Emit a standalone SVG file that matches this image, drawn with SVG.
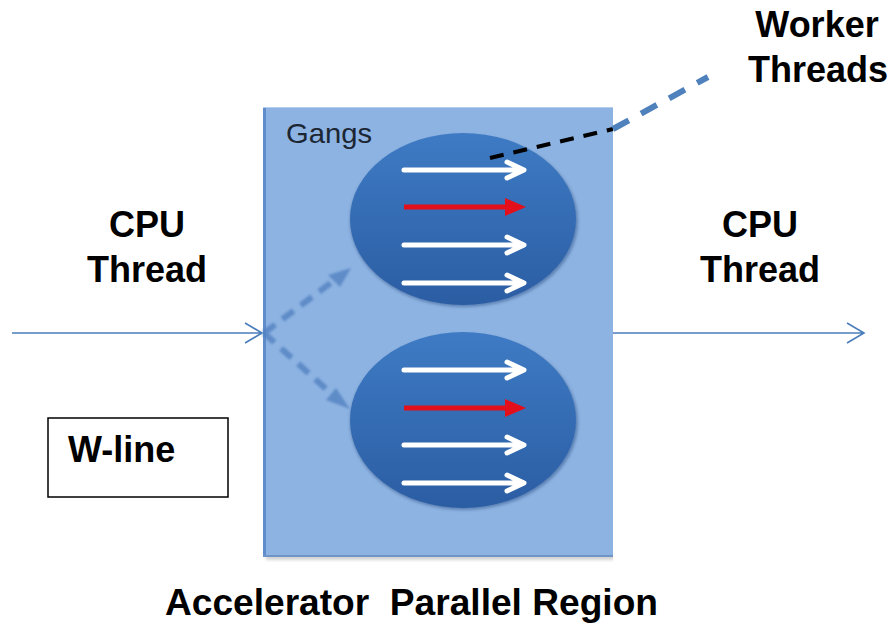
<svg xmlns="http://www.w3.org/2000/svg" width="893" height="627" viewBox="0 0 893 627">
<defs>
<style>
.lbl{font-family:"Liberation Sans",Arial,sans-serif;font-weight:bold;font-size:36px;fill:#000}
.wa{fill:none;stroke:#fff;stroke-width:5;stroke-linecap:round;stroke-linejoin:round}
.ra{fill:none;stroke:#e3101c;stroke-width:5;stroke-linecap:butt}
.flow{fill:none;stroke:#4a7ebb;stroke-width:1.6}
</style>
<linearGradient id="gang" x1="0" y1="0" x2="0" y2="1">
<stop offset="0" stop-color="#3e7bc4"/>
<stop offset="1" stop-color="#2b5da3"/>
</linearGradient>
<filter id="soft" x="-10%" y="-10%" width="120%" height="120%">
<feGaussianBlur stdDeviation="1.5"/>
</filter>
<filter id="blur1" x="-20%" y="-20%" width="140%" height="140%">
<feGaussianBlur stdDeviation="1.2"/>
</filter>
<clipPath id="cut"><rect x="0" y="0" width="613" height="627"/></clipPath>
</defs>
<rect width="893" height="627" fill="#fff"/>

<g id="region">
<rect x="266" y="110" width="350" height="450" fill="#a9a9a9" opacity="0.5" filter="url(#soft)" clip-path="url(#cut)"/>
<rect x="263" y="107" width="350" height="450" fill="#8db3e2"/>
<line x1="264.5" y1="107" x2="264.5" y2="557" stroke="#5f8ccb" stroke-width="3"/>
<line x1="263" y1="556" x2="613" y2="556" stroke="#6f94c6" stroke-width="2"/>
<line x1="263" y1="107.5" x2="613" y2="107.5" stroke="#b5cdec" stroke-width="1"/>
<text x="286" y="143" font-family="'Liberation Sans',Arial,sans-serif" font-size="28" fill="#1c2633" textLength="86" lengthAdjust="spacingAndGlyphs">Gangs</text>
</g>

<g id="gang1">
<ellipse cx="464" cy="221" rx="114" ry="86" fill="#2a4f86" opacity="0.5" filter="url(#soft)"/>
<ellipse cx="463" cy="219" rx="113" ry="86" fill="url(#gang)"/>
<path class="wa" d="M404 170H522M507 162L524 170L507 178"/>
<path class="ra" d="M404 207H510"/>
<path d="M505 198L526 207L505 216Z" fill="#e3101c"/>
<path class="wa" d="M404 245H522M507 237L524 245L507 253"/>
<path class="wa" d="M404 283H522M507 275L524 283L507 291"/>
</g>

<g id="gang2">
<ellipse cx="464" cy="422" rx="114" ry="88" fill="#2a4f86" opacity="0.5" filter="url(#soft)"/>
<ellipse cx="463" cy="420" rx="113" ry="88" fill="url(#gang)"/>
<path class="wa" d="M404 370H522M507 362L524 370L507 378"/>
<path class="ra" d="M404 408H510"/>
<path d="M505 399L526 408L505 417Z" fill="#e3101c"/>
<path class="wa" d="M404 445H522M507 437L524 445L507 453"/>
<path class="wa" d="M404 483H522M507 475L524 483L507 491"/>
</g>

<g id="cpu-in">
<text class="lbl" x="147" y="237" text-anchor="middle">CPU</text>
<text class="lbl" x="147" y="282" text-anchor="middle">Thread</text>
</g>

<g id="cpu-out">
<text class="lbl" x="760" y="237" text-anchor="middle">CPU</text>
<text class="lbl" x="760" y="282" text-anchor="middle">Thread</text>
</g>

<g id="worker">
<text class="lbl" x="817" y="37" text-anchor="middle">Worker</text>
<text class="lbl" x="818" y="82" text-anchor="middle">Threads</text>
</g>

<g id="wline">
<rect x="48" y="418" width="180" height="79" fill="#fff" stroke="#000" stroke-width="1.5"/>
<text class="lbl" x="68" y="462">W-line</text>
</g>

<g id="title">
<text class="lbl" x="165" y="615" xml:space="preserve" textLength="493" lengthAdjust="spacingAndGlyphs">Accelerator  Parallel Region</text>
</g>

<g id="connectors">
<path class="flow" d="M12 333H262M245 323L262 333L245 343"/>
<path class="flow" d="M613 333H864M847 323L864 333L847 343"/>
<g opacity="0.75" filter="url(#blur1)">
<path d="M264 333L336 279" stroke="#4f7fbf" stroke-width="6" stroke-dasharray="14,9" fill="none"/>
<path d="M351 268L328 275L340 287Z" fill="#4f7fbf"/>
<path d="M264 333L335 397" stroke="#4f7fbf" stroke-width="6" stroke-dasharray="14,9" fill="none"/>
<path d="M350 409L336 388L326 400Z" fill="#4f7fbf"/>
</g>
<path d="M490 158L613 129" stroke="#000" stroke-width="4" stroke-dasharray="14,10" fill="none"/>
<path d="M613 129L708 77" stroke="#4f81bd" stroke-width="6" stroke-dasharray="18,14" fill="none"/>
</g>
</svg>
